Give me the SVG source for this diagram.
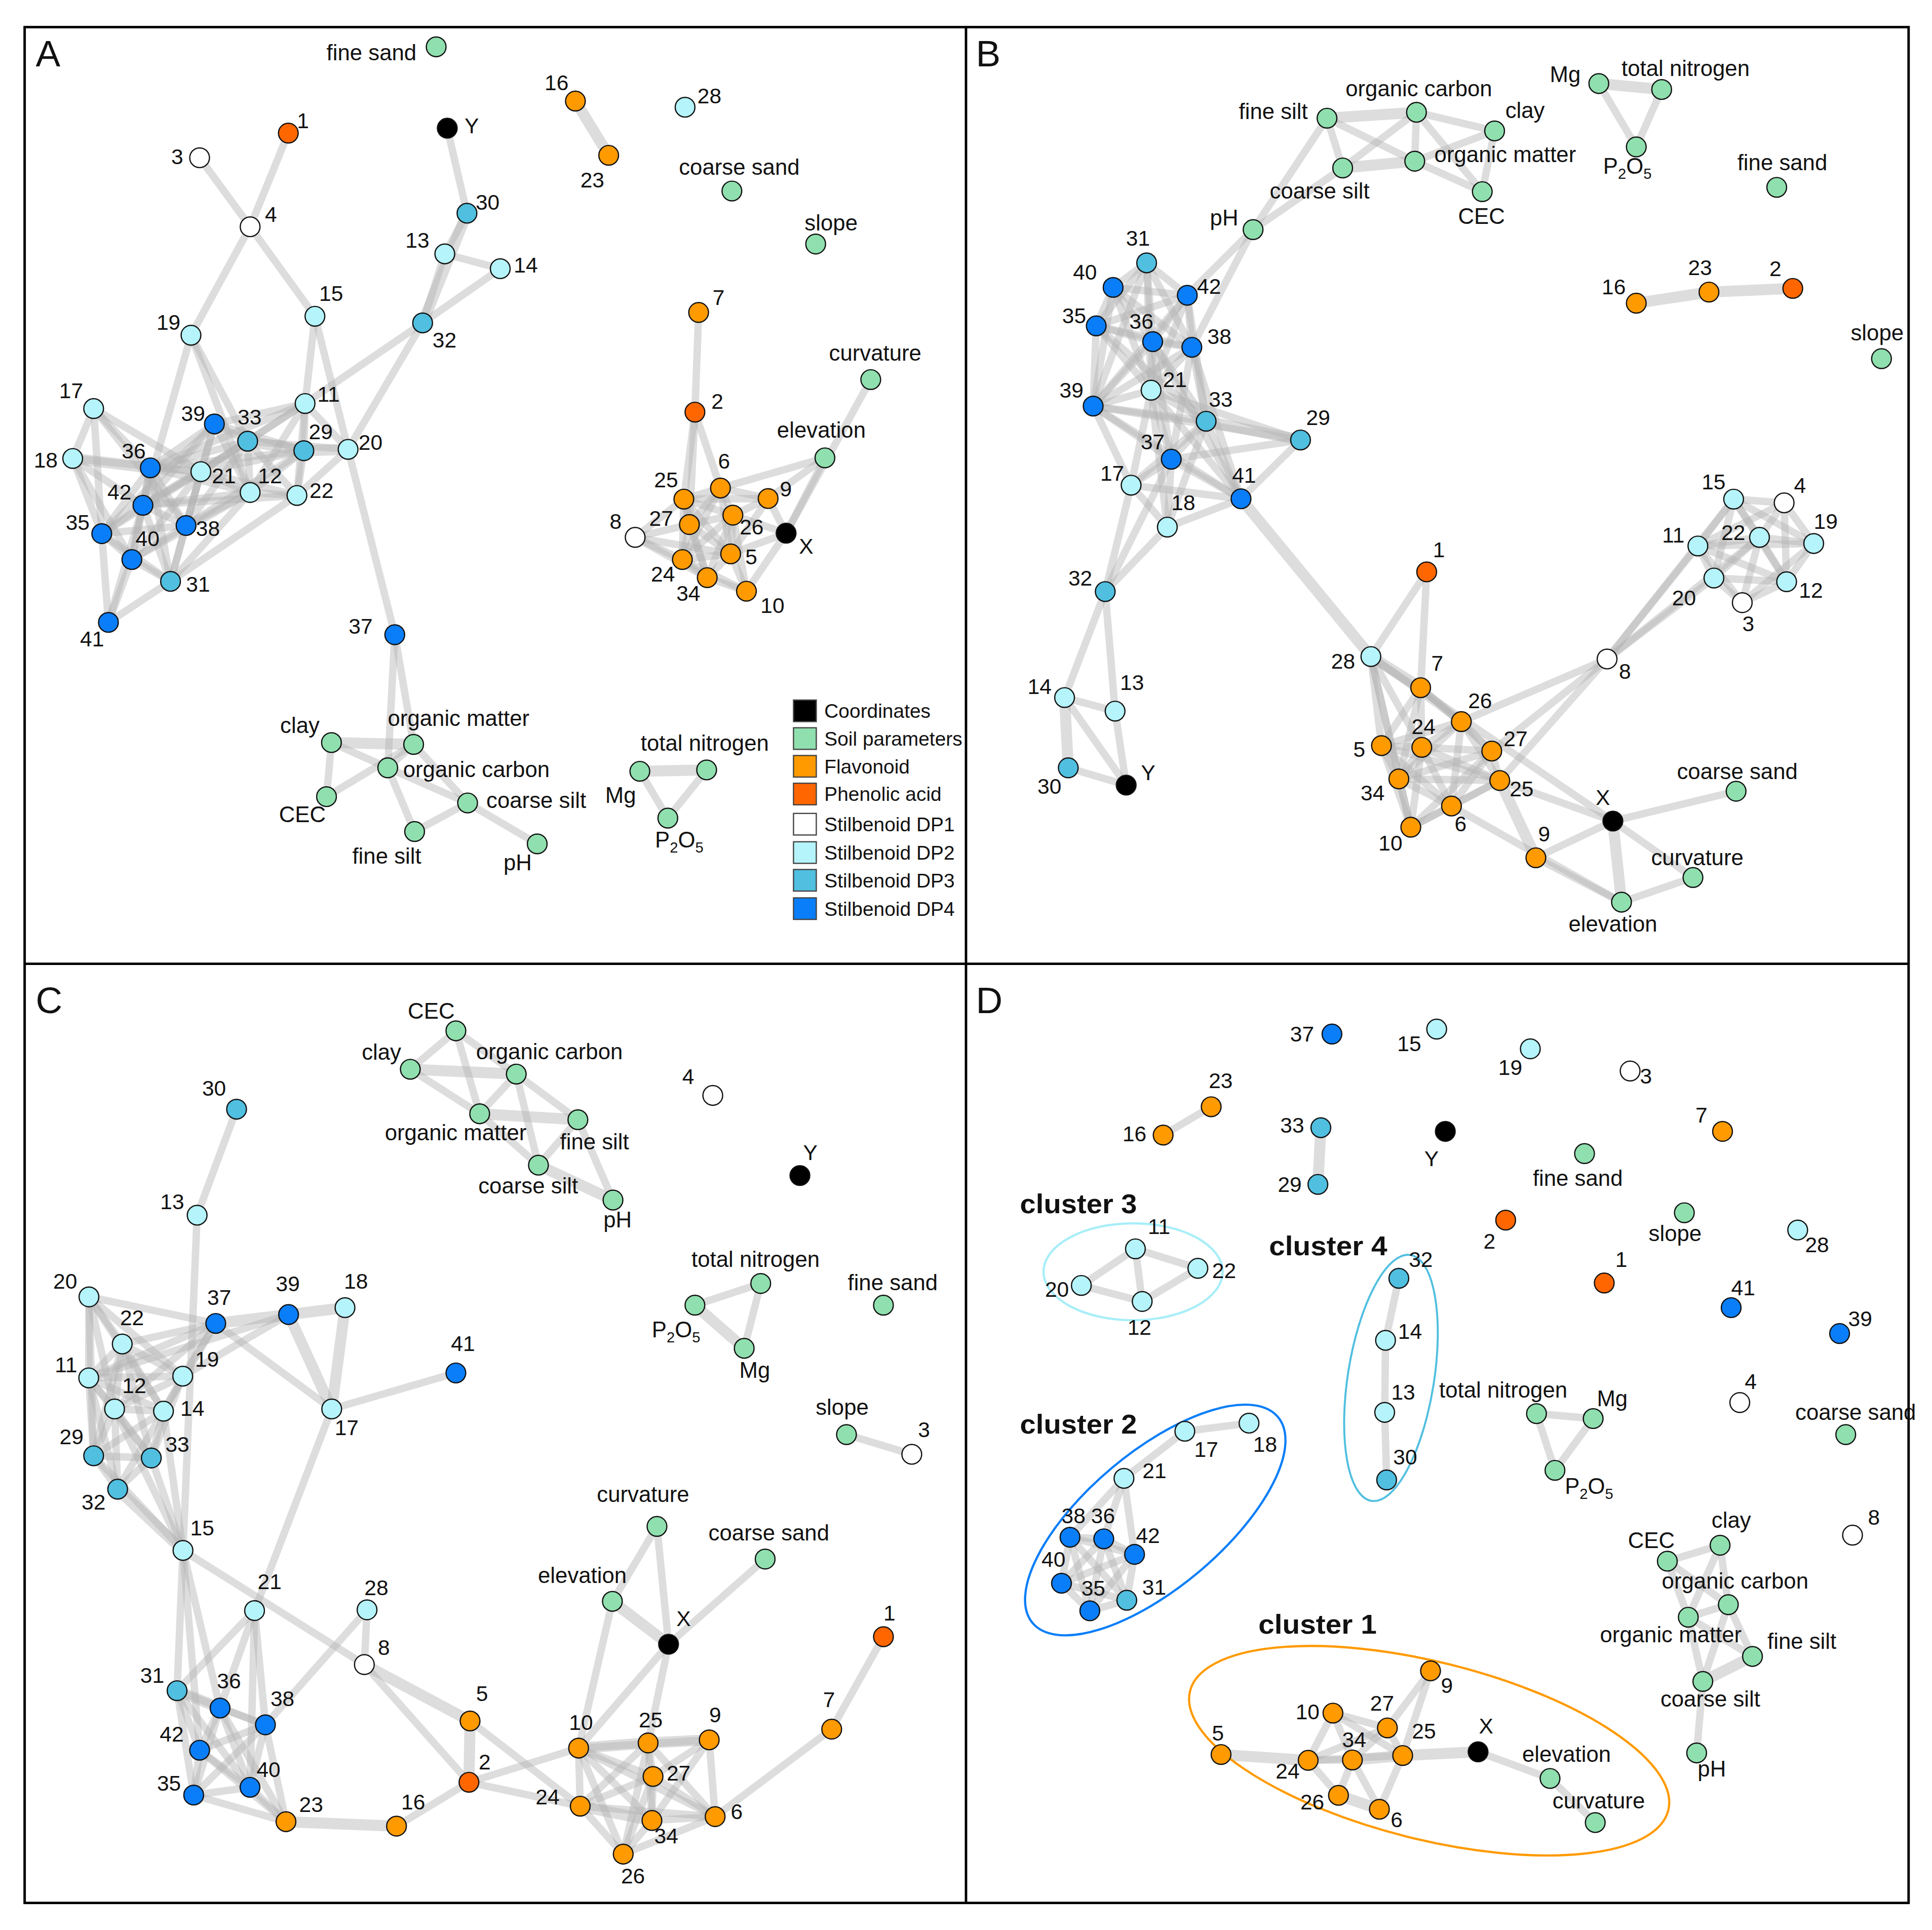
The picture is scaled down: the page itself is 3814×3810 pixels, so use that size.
<svg xmlns="http://www.w3.org/2000/svg" width="3814" height="3810" viewBox="0 0 3814 3810">
<style>
.e line{stroke:#b4b4b4;stroke-opacity:.45;stroke-width:6;stroke-linecap:round}
.e line.t{stroke-width:9}
circle{stroke:#111;stroke-width:1}
.co{fill:#000}.so{fill:#8fe0ae}.fl{fill:#ff9a00}.pa{fill:#ff6600}.d1{fill:#fff}.d2{fill:#b4f4fa}.d3{fill:#50bfe0}.d4{fill:#0a7ef8}
text{font-family:"Liberation Sans",Arial,sans-serif;font-size:17.5px;fill:#111}
.s text{font-size:18px}
.lg text{font-size:16px}
.pl{font-size:30px}
.cl{font-size:22px;font-weight:bold}
.lg rect{stroke:#444;stroke-width:1}
.sub{font-size:12px}
</style>
<rect width="3814" height="3810" fill="#fff"/>
<g transform="scale(2.4324 2.433)">
<g id="frame" fill="none" stroke="#000" stroke-width="2">
<rect x="20" y="22" width="1529" height="1522"/>
<line x1="784" y1="22" x2="784" y2="1544"/>
<line x1="20" y1="782" x2="1549" y2="782"/>
</g>
<text class="pl" x="29" y="54">A</text>
<text class="pl" x="792" y="54">B</text>
<text class="pl" x="29" y="822">C</text>
<text class="pl" x="792" y="822">D</text>

<g id="connectors" class="e">
<!-- Panel A -->
<line x1="162" y1="128" x2="203" y2="184"/>
<line x1="234" y1="108" x2="203" y2="184"/>
<line x1="203" y1="184" x2="255.6" y2="256.6"/>
<line x1="203" y1="184" x2="155" y2="272"/>
<line x1="363" y1="104" x2="379" y2="173"/>
<line class="t" x1="379" y1="173" x2="343" y2="262"/>
<line x1="379" y1="173" x2="361" y2="206"/>
<line x1="361" y1="206" x2="406" y2="218"/>
<line x1="361" y1="206" x2="343" y2="262"/>
<line x1="406" y1="218" x2="343" y2="262"/>
<line x1="343" y1="262" x2="282.5" y2="364.6"/>
<line x1="343" y1="262" x2="247.6" y2="327.4"/>
<line x1="255.6" y1="256.6" x2="247.6" y2="327.4"/>
<line x1="255.6" y1="256.6" x2="282.5" y2="364.6"/>
<line x1="282.5" y1="364.6" x2="320.4" y2="515"/>
<line x1="155" y1="272" x2="116" y2="410"/>
<line x1="155" y1="272" x2="201" y2="358"/>
<line x1="155" y1="272" x2="203" y2="399.6"/>
<line x1="76" y1="331.5" x2="59" y2="372"/>
<line x1="76" y1="331.5" x2="82.6" y2="433"/>
<line x1="76" y1="331.5" x2="122" y2="379.6"/>
<line x1="76" y1="331.5" x2="163" y2="382.7"/>
<line x1="76" y1="331.5" x2="151" y2="426.4"/>
<line class="t" x1="59" y1="372" x2="122" y2="379.6"/>
<line x1="59" y1="372" x2="116" y2="410"/>
<line x1="59" y1="372" x2="82.6" y2="433"/>
<line x1="59" y1="372" x2="163" y2="382.7"/>
<line x1="59" y1="372" x2="107" y2="454"/>
<line x1="122" y1="379.6" x2="116" y2="410"/>
<line x1="122" y1="379.6" x2="151" y2="426.4"/>
<line x1="122" y1="379.6" x2="82.6" y2="433"/>
<line x1="122" y1="379.6" x2="107" y2="454"/>
<line x1="122" y1="379.6" x2="163" y2="382.7"/>
<line x1="122" y1="379.6" x2="203" y2="399.6"/>
<line x1="122" y1="379.6" x2="174" y2="344"/>
<line x1="122" y1="379.6" x2="201" y2="358"/>
<line x1="122" y1="379.6" x2="246.6" y2="365.7"/>
<line x1="122" y1="379.6" x2="247.6" y2="327.4"/>
<line x1="122" y1="379.6" x2="138.4" y2="471.7"/>
<line x1="116" y1="410" x2="151" y2="426.4"/>
<line x1="116" y1="410" x2="82.6" y2="433"/>
<line x1="116" y1="410" x2="107" y2="454"/>
<line x1="116" y1="410" x2="138.4" y2="471.7"/>
<line x1="116" y1="410" x2="163" y2="382.7"/>
<line x1="116" y1="410" x2="203" y2="399.6"/>
<line x1="116" y1="410" x2="174" y2="344"/>
<line x1="116" y1="410" x2="201" y2="358"/>
<line x1="116" y1="410" x2="241" y2="402"/>
<line x1="151" y1="426.4" x2="82.6" y2="433"/>
<line x1="151" y1="426.4" x2="107" y2="454"/>
<line x1="151" y1="426.4" x2="138.4" y2="471.7"/>
<line x1="151" y1="426.4" x2="163" y2="382.7"/>
<line x1="151" y1="426.4" x2="203" y2="399.6"/>
<line x1="151" y1="426.4" x2="174" y2="344"/>
<line x1="151" y1="426.4" x2="201" y2="358"/>
<line x1="151" y1="426.4" x2="246.6" y2="365.7"/>
<line x1="82.6" y1="433" x2="107" y2="454"/>
<line x1="82.6" y1="433" x2="138.4" y2="471.7"/>
<line x1="82.6" y1="433" x2="163" y2="382.7"/>
<line x1="82.6" y1="433" x2="174" y2="344"/>
<line x1="107" y1="454" x2="138.4" y2="471.7"/>
<line x1="107" y1="454" x2="163" y2="382.7"/>
<line x1="107" y1="454" x2="203" y2="399.6"/>
<line x1="138.4" y1="471.7" x2="203" y2="399.6"/>
<line x1="138.4" y1="471.7" x2="241" y2="402"/>
<line x1="138.4" y1="471.7" x2="163" y2="382.7"/>
<line x1="163" y1="382.7" x2="203" y2="399.6"/>
<line x1="163" y1="382.7" x2="174" y2="344"/>
<line x1="163" y1="382.7" x2="201" y2="358"/>
<line x1="163" y1="382.7" x2="246.6" y2="365.7"/>
<line x1="163" y1="382.7" x2="241" y2="402"/>
<line x1="163" y1="382.7" x2="247.6" y2="327.4"/>
<line x1="203" y1="399.6" x2="201" y2="358"/>
<line x1="203" y1="399.6" x2="246.6" y2="365.7"/>
<line x1="203" y1="399.6" x2="241" y2="402"/>
<line x1="203" y1="399.6" x2="247.6" y2="327.4"/>
<line x1="203" y1="399.6" x2="174" y2="344"/>
<line x1="174" y1="344" x2="201" y2="358"/>
<line x1="174" y1="344" x2="247.6" y2="327.4"/>
<line x1="174" y1="344" x2="246.6" y2="365.7"/>
<line class="t" x1="201" y1="358" x2="246.6" y2="365.7"/>
<line x1="201" y1="358" x2="247.6" y2="327.4"/>
<line x1="201" y1="358" x2="241" y2="402"/>
<line x1="201" y1="358" x2="282.5" y2="364.6"/>
<line x1="246.6" y1="365.7" x2="241" y2="402"/>
<line x1="246.6" y1="365.7" x2="247.6" y2="327.4"/>
<line class="t" x1="246.6" y1="365.7" x2="282.5" y2="364.6"/>
<line x1="241" y1="402" x2="282.5" y2="364.6"/>
<line x1="241" y1="402" x2="247.6" y2="327.4"/>
<line x1="247.6" y1="327.4" x2="282.5" y2="364.6"/>
<line x1="88" y1="505" x2="82.6" y2="433"/>
<line x1="88" y1="505" x2="107" y2="454"/>
<line x1="88" y1="505" x2="138.4" y2="471.7"/>
<line x1="88" y1="505" x2="116" y2="410"/>
<line x1="567" y1="253.5" x2="564" y2="334.4"/>
<line x1="564" y1="334.4" x2="555" y2="405"/>
<line x1="564" y1="334.4" x2="584.7" y2="396"/>
<line x1="564" y1="334.4" x2="559.5" y2="425.6"/>
<line x1="706.7" y1="308" x2="638" y2="432.6"/>
<line x1="669.5" y1="371.5" x2="638" y2="432.6"/>
<line x1="669.5" y1="371.5" x2="584.7" y2="396"/>
<line x1="669.5" y1="371.5" x2="623.4" y2="404.5"/>
<line x1="555" y1="405" x2="584.7" y2="396"/>
<line x1="555" y1="405" x2="594.8" y2="418"/>
<line x1="555" y1="405" x2="559.5" y2="425.6"/>
<line x1="555" y1="405" x2="553.8" y2="454"/>
<line x1="555" y1="405" x2="593" y2="449.4"/>
<line x1="555" y1="405" x2="574" y2="468.7"/>
<line x1="555" y1="405" x2="623.4" y2="404.5"/>
<line x1="584.7" y1="396" x2="623.4" y2="404.5"/>
<line x1="584.7" y1="396" x2="594.8" y2="418"/>
<line x1="584.7" y1="396" x2="559.5" y2="425.6"/>
<line x1="584.7" y1="396" x2="593" y2="449.4"/>
<line x1="584.7" y1="396" x2="553.8" y2="454"/>
<line x1="623.4" y1="404.5" x2="594.8" y2="418"/>
<line x1="623.4" y1="404.5" x2="638" y2="432.6"/>
<line x1="623.4" y1="404.5" x2="593" y2="449.4"/>
<line x1="594.8" y1="418" x2="559.5" y2="425.6"/>
<line x1="594.8" y1="418" x2="638" y2="432.6"/>
<line x1="594.8" y1="418" x2="593" y2="449.4"/>
<line x1="594.8" y1="418" x2="553.8" y2="454"/>
<line x1="594.8" y1="418" x2="574" y2="468.7"/>
<line x1="594.8" y1="418" x2="605.8" y2="479.7"/>
<line x1="559.5" y1="425.6" x2="593" y2="449.4"/>
<line x1="559.5" y1="425.6" x2="553.8" y2="454"/>
<line x1="559.5" y1="425.6" x2="574" y2="468.7"/>
<line x1="559.5" y1="425.6" x2="515.5" y2="436"/>
<line x1="515.5" y1="436" x2="555" y2="405"/>
<line x1="515.5" y1="436" x2="553.8" y2="454"/>
<line x1="515.5" y1="436" x2="574" y2="468.7"/>
<line x1="515.5" y1="436" x2="593" y2="449.4"/>
<line x1="638" y1="432.6" x2="593" y2="449.4"/>
<line x1="638" y1="432.6" x2="605.8" y2="479.7"/>
<line x1="593" y1="449.4" x2="553.8" y2="454"/>
<line x1="593" y1="449.4" x2="574" y2="468.7"/>
<line x1="593" y1="449.4" x2="605.8" y2="479.7"/>
<line x1="553.8" y1="454" x2="574" y2="468.7"/>
<line x1="553.8" y1="454" x2="605.8" y2="479.7"/>
<line x1="574" y1="468.7" x2="605.8" y2="479.7"/>
<line x1="320.4" y1="515" x2="314.7" y2="623"/>
<line x1="320.4" y1="515" x2="335.7" y2="604"/>
<line class="t" x1="269" y1="602.5" x2="335.7" y2="604"/>
<line x1="269" y1="602.5" x2="314.7" y2="623"/>
<line x1="269" y1="602.5" x2="265" y2="646.4"/>
<line x1="265" y1="646.4" x2="335.7" y2="604"/>
<line x1="314.7" y1="623" x2="335.7" y2="604"/>
<line x1="335.7" y1="604" x2="379.5" y2="651.5"/>
<line x1="314.7" y1="623" x2="336.5" y2="674.7"/>
<line x1="379.5" y1="651.5" x2="336.5" y2="674.7"/>
<line x1="314.7" y1="623" x2="379.5" y2="651.5"/>
<line x1="379.5" y1="651.5" x2="436" y2="684.7"/>
<line class="t" x1="519.3" y1="625.8" x2="573.5" y2="624.7"/>
<line x1="519.3" y1="625.8" x2="542" y2="663.8"/>
<line x1="573.5" y1="624.7" x2="542" y2="663.8"/>
<line class="t" x1="467" y1="82" x2="494" y2="126"/>
<!-- Panel B -->
<line class="t" x1="1077" y1="95.9" x2="1149.6" y2="91.1"/>
<line x1="1077" y1="95.9" x2="1089.7" y2="136.3"/>
<line x1="1077" y1="95.9" x2="1148.2" y2="130.8"/>
<line x1="1077" y1="95.9" x2="1017" y2="186.3"/>
<line x1="1149.6" y1="91.1" x2="1213" y2="106.2"/>
<line x1="1149.6" y1="91.1" x2="1148.2" y2="130.8"/>
<line x1="1149.6" y1="91.1" x2="1203" y2="155.5"/>
<line x1="1149.6" y1="91.1" x2="1089.7" y2="136.3"/>
<line x1="1213" y1="106.2" x2="1148.2" y2="130.8"/>
<line x1="1213" y1="106.2" x2="1203" y2="155.5"/>
<line class="t" x1="1148.2" y1="130.8" x2="1089.7" y2="136.3"/>
<line x1="1148.2" y1="130.8" x2="1203" y2="155.5"/>
<line x1="1089.7" y1="136.3" x2="1017" y2="186.3"/>
<line class="t" x1="1297.6" y1="67.8" x2="1348.6" y2="72.6"/>
<line x1="1297.6" y1="67.8" x2="1328" y2="119.2"/>
<line x1="1348.6" y1="72.6" x2="1328" y2="119.2"/>
<line class="t" x1="1328" y1="246" x2="1387" y2="237"/>
<line class="t" x1="1387" y1="237" x2="1455" y2="234"/>
<line x1="1017" y1="186.3" x2="963.6" y2="239.6"/>
<line x1="1017" y1="186.3" x2="967.3" y2="281.8"/>
<line x1="930.6" y1="213.3" x2="903.4" y2="233.2"/>
<line x1="930.6" y1="213.3" x2="963.6" y2="239.6"/>
<line x1="930.6" y1="213.3" x2="889.7" y2="264.4"/>
<line x1="930.6" y1="213.3" x2="935.5" y2="277.2"/>
<line x1="930.6" y1="213.3" x2="967.3" y2="281.8"/>
<line x1="930.6" y1="213.3" x2="934.2" y2="316.6"/>
<line x1="930.6" y1="213.3" x2="887.2" y2="329.5"/>
<line x1="903.4" y1="233.2" x2="963.6" y2="239.6"/>
<line x1="903.4" y1="233.2" x2="889.7" y2="264.4"/>
<line x1="903.4" y1="233.2" x2="935.5" y2="277.2"/>
<line x1="903.4" y1="233.2" x2="967.3" y2="281.8"/>
<line x1="903.4" y1="233.2" x2="934.2" y2="316.6"/>
<line x1="903.4" y1="233.2" x2="887.2" y2="329.5"/>
<line x1="963.6" y1="239.6" x2="889.7" y2="264.4"/>
<line x1="963.6" y1="239.6" x2="935.5" y2="277.2"/>
<line x1="963.6" y1="239.6" x2="967.3" y2="281.8"/>
<line x1="963.6" y1="239.6" x2="934.2" y2="316.6"/>
<line x1="963.6" y1="239.6" x2="887.2" y2="329.5"/>
<line x1="963.6" y1="239.6" x2="978.9" y2="341.8"/>
<line x1="889.7" y1="264.4" x2="935.5" y2="277.2"/>
<line x1="889.7" y1="264.4" x2="967.3" y2="281.8"/>
<line x1="889.7" y1="264.4" x2="934.2" y2="316.6"/>
<line x1="889.7" y1="264.4" x2="887.2" y2="329.5"/>
<line x1="889.7" y1="264.4" x2="978.9" y2="341.8"/>
<line x1="935.5" y1="277.2" x2="967.3" y2="281.8"/>
<line x1="935.5" y1="277.2" x2="934.2" y2="316.6"/>
<line x1="935.5" y1="277.2" x2="887.2" y2="329.5"/>
<line x1="935.5" y1="277.2" x2="978.9" y2="341.8"/>
<line x1="935.5" y1="277.2" x2="950.6" y2="372.6"/>
<line x1="935.5" y1="277.2" x2="1007.2" y2="404.7"/>
<line x1="967.3" y1="281.8" x2="934.2" y2="316.6"/>
<line x1="967.3" y1="281.8" x2="887.2" y2="329.5"/>
<line x1="967.3" y1="281.8" x2="978.9" y2="341.8"/>
<line x1="967.3" y1="281.8" x2="950.6" y2="372.6"/>
<line x1="967.3" y1="281.8" x2="1007.2" y2="404.7"/>
<line x1="934.2" y1="316.6" x2="887.2" y2="329.5"/>
<line x1="934.2" y1="316.6" x2="978.9" y2="341.8"/>
<line x1="934.2" y1="316.6" x2="950.6" y2="372.6"/>
<line x1="934.2" y1="316.6" x2="918" y2="393.7"/>
<line x1="934.2" y1="316.6" x2="1007.2" y2="404.7"/>
<line x1="934.2" y1="316.6" x2="947.4" y2="427.7"/>
<line x1="887.2" y1="329.5" x2="978.9" y2="341.8"/>
<line x1="887.2" y1="329.5" x2="950.6" y2="372.6"/>
<line x1="887.2" y1="329.5" x2="918" y2="393.7"/>
<line x1="887.2" y1="329.5" x2="1007.2" y2="404.7"/>
<line x1="978.9" y1="341.8" x2="950.6" y2="372.6"/>
<line x1="978.9" y1="341.8" x2="1007.2" y2="404.7"/>
<line x1="978.9" y1="341.8" x2="918" y2="393.7"/>
<line x1="978.9" y1="341.8" x2="947.4" y2="427.7"/>
<line x1="950.6" y1="372.6" x2="918" y2="393.7"/>
<line x1="950.6" y1="372.6" x2="1007.2" y2="404.7"/>
<line x1="950.6" y1="372.6" x2="947.4" y2="427.7"/>
<line x1="918" y1="393.7" x2="1007.2" y2="404.7"/>
<line x1="918" y1="393.7" x2="947.4" y2="427.7"/>
<line x1="1007.2" y1="404.7" x2="947.4" y2="427.7"/>
<line class="t" x1="1055.5" y1="357" x2="978.9" y2="341.8"/>
<line x1="1055.5" y1="357" x2="950.6" y2="372.6"/>
<line x1="1055.5" y1="357" x2="1007.2" y2="404.7"/>
<line x1="1055.5" y1="357" x2="934.2" y2="316.6"/>
<line x1="1055.5" y1="357" x2="887.2" y2="329.5"/>
<line class="t" x1="1007.2" y1="404.7" x2="1112.6" y2="532.7"/>
<line x1="918" y1="393.7" x2="897" y2="480"/>
<line x1="947.4" y1="427.7" x2="897" y2="480"/>
<line x1="950.6" y1="372.6" x2="897" y2="480"/>
<line x1="897" y1="480" x2="864" y2="566"/>
<line x1="897" y1="480" x2="905" y2="577"/>
<line x1="864" y1="566" x2="905" y2="577"/>
<line class="t" x1="864" y1="566" x2="867" y2="623"/>
<line x1="905" y1="577" x2="914" y2="637"/>
<line x1="867" y1="623" x2="914" y2="637"/>
<line x1="864" y1="566" x2="914" y2="637"/>
<line x1="1112.6" y1="532.7" x2="1157.9" y2="464"/>
<line x1="1157.9" y1="464" x2="1153" y2="558"/>
<line class="t" x1="1112.6" y1="532.7" x2="1153" y2="558"/>
<line x1="1112.6" y1="532.7" x2="1121.2" y2="605"/>
<line x1="1112.6" y1="532.7" x2="1135.3" y2="632"/>
<line x1="1112.6" y1="532.7" x2="1153.9" y2="606.4"/>
<line x1="1112.6" y1="532.7" x2="1186" y2="585.5"/>
<line x1="1112.6" y1="532.7" x2="1309" y2="666.2"/>
<line x1="1112.6" y1="532.7" x2="1145" y2="671.2"/>
<line x1="1153" y1="558" x2="1186" y2="585.5"/>
<line x1="1153" y1="558" x2="1153.9" y2="606.4"/>
<line x1="1153" y1="558" x2="1121.2" y2="605"/>
<line x1="1153" y1="558" x2="1210.7" y2="609.4"/>
<line x1="1153" y1="558" x2="1135.3" y2="632"/>
<line x1="1186" y1="585.5" x2="1153.9" y2="606.4"/>
<line x1="1186" y1="585.5" x2="1121.2" y2="605"/>
<line x1="1186" y1="585.5" x2="1210.7" y2="609.4"/>
<line x1="1186" y1="585.5" x2="1135.3" y2="632"/>
<line x1="1186" y1="585.5" x2="1217.2" y2="633.3"/>
<line x1="1186" y1="585.5" x2="1178" y2="654"/>
<line x1="1153.9" y1="606.4" x2="1121.2" y2="605"/>
<line x1="1153.9" y1="606.4" x2="1210.7" y2="609.4"/>
<line x1="1153.9" y1="606.4" x2="1135.3" y2="632"/>
<line x1="1153.9" y1="606.4" x2="1217.2" y2="633.3"/>
<line x1="1153.9" y1="606.4" x2="1178" y2="654"/>
<line x1="1153.9" y1="606.4" x2="1145" y2="671.2"/>
<line x1="1121.2" y1="605" x2="1135.3" y2="632"/>
<line x1="1121.2" y1="605" x2="1145" y2="671.2"/>
<line x1="1121.2" y1="605" x2="1178" y2="654"/>
<line x1="1121.2" y1="605" x2="1217.2" y2="633.3"/>
<line x1="1210.7" y1="609.4" x2="1135.3" y2="632"/>
<line x1="1210.7" y1="609.4" x2="1217.2" y2="633.3"/>
<line x1="1210.7" y1="609.4" x2="1178" y2="654"/>
<line x1="1210.7" y1="609.4" x2="1145" y2="671.2"/>
<line x1="1135.3" y1="632" x2="1217.2" y2="633.3"/>
<line x1="1135.3" y1="632" x2="1178" y2="654"/>
<line x1="1135.3" y1="632" x2="1145" y2="671.2"/>
<line x1="1217.2" y1="633.3" x2="1178" y2="654"/>
<line x1="1217.2" y1="633.3" x2="1145" y2="671.2"/>
<line x1="1178" y1="654" x2="1145" y2="671.2"/>
<line x1="1304.3" y1="534.7" x2="1186" y2="585.5"/>
<line x1="1304.3" y1="534.7" x2="1210.7" y2="609.4"/>
<line x1="1304.3" y1="534.7" x2="1217.2" y2="633.3"/>
<line x1="1304.3" y1="534.7" x2="1407" y2="405"/>
<line x1="1304.3" y1="534.7" x2="1378" y2="443"/>
<line x1="1304.3" y1="534.7" x2="1391" y2="469"/>
<line x1="1304.3" y1="534.7" x2="1428" y2="436"/>
<line class="t" x1="1217.2" y1="633.3" x2="1246.5" y2="696"/>
<line x1="1178" y1="654" x2="1316" y2="732"/>
<line x1="1246.5" y1="696" x2="1309" y2="666.2"/>
<line x1="1246.5" y1="696" x2="1316" y2="732"/>
<line x1="1217.2" y1="633.3" x2="1309" y2="666.2"/>
<line class="t" x1="1309" y1="666.2" x2="1316" y2="732"/>
<line x1="1309" y1="666.2" x2="1374" y2="712"/>
<line x1="1309" y1="666.2" x2="1409" y2="642"/>
<line x1="1374" y1="712" x2="1316" y2="732"/>
<line x1="1407" y1="405" x2="1448" y2="408"/>
<line x1="1407" y1="405" x2="1378" y2="443"/>
<line x1="1407" y1="405" x2="1428" y2="436"/>
<line x1="1407" y1="405" x2="1472" y2="441"/>
<line x1="1407" y1="405" x2="1391" y2="469"/>
<line x1="1407" y1="405" x2="1450" y2="472"/>
<line x1="1448" y1="408" x2="1428" y2="436"/>
<line x1="1448" y1="408" x2="1472" y2="441"/>
<line x1="1448" y1="408" x2="1450" y2="472"/>
<line x1="1448" y1="408" x2="1378" y2="443"/>
<line x1="1378" y1="443" x2="1428" y2="436"/>
<line x1="1378" y1="443" x2="1391" y2="469"/>
<line x1="1378" y1="443" x2="1450" y2="472"/>
<line x1="1378" y1="443" x2="1414" y2="489"/>
<line x1="1378" y1="443" x2="1472" y2="441"/>
<line x1="1428" y1="436" x2="1472" y2="441"/>
<line x1="1428" y1="436" x2="1391" y2="469"/>
<line x1="1428" y1="436" x2="1450" y2="472"/>
<line x1="1428" y1="436" x2="1414" y2="489"/>
<line x1="1472" y1="441" x2="1450" y2="472"/>
<line x1="1472" y1="441" x2="1414" y2="489"/>
<line x1="1391" y1="469" x2="1450" y2="472"/>
<line x1="1391" y1="469" x2="1414" y2="489"/>
<line x1="1450" y1="472" x2="1414" y2="489"/>
<!-- Panel C -->
<line x1="370" y1="836.4" x2="333" y2="867.6"/>
<line x1="370" y1="836.4" x2="419" y2="871.5"/>
<line x1="370" y1="836.4" x2="389.3" y2="903.7"/>
<line class="t" x1="333" y1="867.6" x2="419" y2="871.5"/>
<line x1="333" y1="867.6" x2="389.3" y2="903.7"/>
<line x1="419" y1="871.5" x2="389.3" y2="903.7"/>
<line x1="419" y1="871.5" x2="469" y2="908.5"/>
<line x1="419" y1="871.5" x2="437" y2="945.4"/>
<line class="t" x1="389.3" y1="903.7" x2="469" y2="908.5"/>
<line x1="389.3" y1="903.7" x2="437" y2="945.4"/>
<line x1="469" y1="908.5" x2="437" y2="945.4"/>
<line x1="469" y1="908.5" x2="497.5" y2="973.7"/>
<line class="t" x1="437" y1="945.4" x2="497.5" y2="973.7"/>
<line x1="617.4" y1="1041.4" x2="564" y2="1059"/>
<line x1="617.4" y1="1041.4" x2="604" y2="1094"/>
<line class="t" x1="564" y1="1059" x2="604" y2="1094"/>
<line x1="687" y1="1164" x2="740" y2="1180"/>
<line x1="192" y1="900" x2="160" y2="986"/>
<line x1="160" y1="986" x2="148.5" y2="1258"/>
<line x1="72.2" y1="1052.3" x2="175.1" y2="1073.8"/>
<line x1="72.2" y1="1052.3" x2="99.2" y2="1090.5"/>
<line x1="72.2" y1="1052.3" x2="72" y2="1118"/>
<line x1="72.2" y1="1052.3" x2="93" y2="1143.2"/>
<line x1="72.2" y1="1052.3" x2="76" y2="1181.2"/>
<line x1="72.2" y1="1052.3" x2="132.7" y2="1145"/>
<line x1="72.2" y1="1052.3" x2="148.3" y2="1116.6"/>
<line class="t" x1="175.1" y1="1073.8" x2="234.2" y2="1066.6"/>
<line class="t" x1="234.2" y1="1066.6" x2="280" y2="1061"/>
<line x1="175.1" y1="1073.8" x2="269.2" y2="1143.2"/>
<line class="t" x1="234.2" y1="1066.6" x2="269.2" y2="1143.2"/>
<line class="t" x1="280" y1="1061" x2="269.2" y2="1143.2"/>
<line x1="175.1" y1="1073.8" x2="99.2" y2="1090.5"/>
<line x1="175.1" y1="1073.8" x2="72" y2="1118"/>
<line x1="175.1" y1="1073.8" x2="148.3" y2="1116.6"/>
<line x1="175.1" y1="1073.8" x2="93" y2="1143.2"/>
<line x1="175.1" y1="1073.8" x2="132.7" y2="1145"/>
<line x1="234.2" y1="1066.6" x2="148.3" y2="1116.6"/>
<line x1="234.2" y1="1066.6" x2="72" y2="1118"/>
<line x1="269.2" y1="1143.2" x2="206.6" y2="1306.8"/>
<line x1="269.2" y1="1143.2" x2="370" y2="1114"/>
<line x1="99.2" y1="1090.5" x2="72" y2="1118"/>
<line x1="99.2" y1="1090.5" x2="148.3" y2="1116.6"/>
<line x1="99.2" y1="1090.5" x2="93" y2="1143.2"/>
<line x1="99.2" y1="1090.5" x2="132.7" y2="1145"/>
<line x1="99.2" y1="1090.5" x2="76" y2="1181.2"/>
<line x1="99.2" y1="1090.5" x2="122.8" y2="1183"/>
<line x1="72" y1="1118" x2="148.3" y2="1116.6"/>
<line x1="72" y1="1118" x2="93" y2="1143.2"/>
<line x1="72" y1="1118" x2="132.7" y2="1145"/>
<line x1="72" y1="1118" x2="76" y2="1181.2"/>
<line x1="72" y1="1118" x2="122.8" y2="1183"/>
<line x1="72" y1="1118" x2="95.5" y2="1208.3"/>
<line x1="148.3" y1="1116.6" x2="93" y2="1143.2"/>
<line x1="148.3" y1="1116.6" x2="132.7" y2="1145"/>
<line x1="148.3" y1="1116.6" x2="122.8" y2="1183"/>
<line x1="93" y1="1143.2" x2="132.7" y2="1145"/>
<line x1="93" y1="1143.2" x2="76" y2="1181.2"/>
<line x1="93" y1="1143.2" x2="122.8" y2="1183"/>
<line x1="93" y1="1143.2" x2="95.5" y2="1208.3"/>
<line x1="132.7" y1="1145" x2="76" y2="1181.2"/>
<line x1="132.7" y1="1145" x2="122.8" y2="1183"/>
<line x1="132.7" y1="1145" x2="95.5" y2="1208.3"/>
<line x1="76" y1="1181.2" x2="122.8" y2="1183"/>
<line x1="76" y1="1181.2" x2="95.5" y2="1208.3"/>
<line x1="122.8" y1="1183" x2="95.5" y2="1208.3"/>
<line x1="148.5" y1="1258" x2="76" y2="1181.2"/>
<line x1="148.5" y1="1258" x2="122.8" y2="1183"/>
<line class="t" x1="148.5" y1="1258" x2="95.5" y2="1208.3"/>
<line x1="148.5" y1="1258" x2="93" y2="1143.2"/>
<line x1="148.5" y1="1258" x2="132.7" y2="1145"/>
<line x1="148.5" y1="1258" x2="295.7" y2="1350.6"/>
<line class="t" x1="295.7" y1="1350.6" x2="381.5" y2="1396.4"/>
<line x1="295.7" y1="1350.6" x2="380.6" y2="1446.1"/>
<line x1="297.9" y1="1306.2" x2="295.7" y2="1350.6"/>
<line x1="297.9" y1="1306.2" x2="215.4" y2="1399.5"/>
<line x1="206.6" y1="1306.8" x2="143.7" y2="1371.8"/>
<line x1="206.6" y1="1306.8" x2="178.6" y2="1385.9"/>
<line x1="206.6" y1="1306.8" x2="215.4" y2="1399.5"/>
<line x1="206.6" y1="1306.8" x2="202.9" y2="1450.2"/>
<line x1="148.5" y1="1258" x2="143.7" y2="1371.8"/>
<line x1="148.5" y1="1258" x2="178.6" y2="1385.9"/>
<line x1="148.5" y1="1258" x2="162" y2="1420.1"/>
<line class="t" x1="143.7" y1="1371.8" x2="178.6" y2="1385.9"/>
<line x1="143.7" y1="1371.8" x2="215.4" y2="1399.5"/>
<line x1="143.7" y1="1371.8" x2="162" y2="1420.1"/>
<line x1="143.7" y1="1371.8" x2="202.9" y2="1450.2"/>
<line x1="143.7" y1="1371.8" x2="157.2" y2="1456.5"/>
<line x1="178.6" y1="1385.9" x2="215.4" y2="1399.5"/>
<line x1="178.6" y1="1385.9" x2="162" y2="1420.1"/>
<line x1="178.6" y1="1385.9" x2="202.9" y2="1450.2"/>
<line x1="178.6" y1="1385.9" x2="157.2" y2="1456.5"/>
<line x1="215.4" y1="1399.5" x2="162" y2="1420.1"/>
<line x1="215.4" y1="1399.5" x2="202.9" y2="1450.2"/>
<line x1="215.4" y1="1399.5" x2="157.2" y2="1456.5"/>
<line x1="162" y1="1420.1" x2="202.9" y2="1450.2"/>
<line x1="162" y1="1420.1" x2="157.2" y2="1456.5"/>
<line x1="202.9" y1="1450.2" x2="157.2" y2="1456.5"/>
<line x1="232.1" y1="1478.1" x2="157.2" y2="1456.5"/>
<line x1="232.1" y1="1478.1" x2="202.9" y2="1450.2"/>
<line x1="232.1" y1="1478.1" x2="178.6" y2="1385.9"/>
<line x1="232.1" y1="1478.1" x2="215.4" y2="1399.5"/>
<line x1="232.1" y1="1478.1" x2="162" y2="1420.1"/>
<line class="t" x1="232.1" y1="1478.1" x2="321.8" y2="1481.7"/>
<line x1="321.8" y1="1481.7" x2="380.6" y2="1446.1"/>
<line class="t" x1="380.6" y1="1446.1" x2="381.5" y2="1396.4"/>
<line x1="380.6" y1="1446.1" x2="470.9" y2="1465.5"/>
<line x1="380.6" y1="1446.1" x2="469.6" y2="1418.4"/>
<line x1="381.5" y1="1396.4" x2="470.9" y2="1465.5"/>
<line x1="469.6" y1="1418.4" x2="497" y2="1299.3"/>
<line x1="469.6" y1="1418.4" x2="542.6" y2="1334.1"/>
<line x1="526" y1="1414.2" x2="542.6" y2="1334.1"/>
<line class="t" x1="542.6" y1="1334.1" x2="497" y2="1299.3"/>
<line x1="542.6" y1="1334.1" x2="533.2" y2="1238.5"/>
<line x1="497" y1="1299.3" x2="533.2" y2="1238.5"/>
<line x1="542.6" y1="1334.1" x2="621" y2="1265"/>
<line class="t" x1="469.6" y1="1418.4" x2="526" y2="1414.2"/>
<line x1="469.6" y1="1418.4" x2="575.6" y2="1411.7"/>
<line x1="469.6" y1="1418.4" x2="530" y2="1441.4"/>
<line x1="469.6" y1="1418.4" x2="470.9" y2="1465.5"/>
<line x1="469.6" y1="1418.4" x2="529.1" y2="1477.1"/>
<line x1="469.6" y1="1418.4" x2="505.8" y2="1504.4"/>
<line x1="469.6" y1="1418.4" x2="580.4" y2="1474"/>
<line class="t" x1="526" y1="1414.2" x2="575.6" y2="1411.7"/>
<line x1="526" y1="1414.2" x2="530" y2="1441.4"/>
<line x1="526" y1="1414.2" x2="470.9" y2="1465.5"/>
<line x1="526" y1="1414.2" x2="529.1" y2="1477.1"/>
<line x1="526" y1="1414.2" x2="580.4" y2="1474"/>
<line x1="526" y1="1414.2" x2="505.8" y2="1504.4"/>
<line x1="575.6" y1="1411.7" x2="530" y2="1441.4"/>
<line x1="575.6" y1="1411.7" x2="580.4" y2="1474"/>
<line x1="575.6" y1="1411.7" x2="529.1" y2="1477.1"/>
<line x1="530" y1="1441.4" x2="470.9" y2="1465.5"/>
<line x1="530" y1="1441.4" x2="529.1" y2="1477.1"/>
<line x1="530" y1="1441.4" x2="580.4" y2="1474"/>
<line x1="530" y1="1441.4" x2="505.8" y2="1504.4"/>
<line class="t" x1="470.9" y1="1465.5" x2="529.1" y2="1477.1"/>
<line x1="470.9" y1="1465.5" x2="505.8" y2="1504.4"/>
<line x1="470.9" y1="1465.5" x2="580.4" y2="1474"/>
<line x1="529.1" y1="1477.1" x2="580.4" y2="1474"/>
<line x1="529.1" y1="1477.1" x2="505.8" y2="1504.4"/>
<line x1="505.8" y1="1504.4" x2="580.4" y2="1474"/>
<line x1="717" y1="1328" x2="675" y2="1403"/>
<line x1="675" y1="1403" x2="580.4" y2="1474"/>
<!-- Panel D -->
<line x1="944" y1="921" x2="983" y2="898"/>
<line class="t" x1="1072" y1="915" x2="1069.6" y2="961"/>
<line x1="877.6" y1="1043" x2="921.5" y2="1013.3"/>
<line x1="921.5" y1="1013.3" x2="972.2" y2="1029.1"/>
<line x1="921.5" y1="1013.3" x2="927" y2="1056"/>
<line x1="877.6" y1="1043" x2="927" y2="1056"/>
<line x1="972.2" y1="1029.1" x2="927" y2="1056"/>
<line x1="1135.3" y1="1037.2" x2="1124.5" y2="1087.5"/>
<line x1="1124.5" y1="1087.5" x2="1123.8" y2="1146"/>
<line x1="1123.8" y1="1146" x2="1125.4" y2="1200.8"/>
<line x1="961.6" y1="1161.3" x2="1013.7" y2="1154.7"/>
<line x1="961.6" y1="1161.3" x2="912.2" y2="1199.5"/>
<line x1="912.2" y1="1199.5" x2="895.8" y2="1248.6"/>
<line x1="912.2" y1="1199.5" x2="920.8" y2="1261.2"/>
<line x1="912.2" y1="1199.5" x2="868.4" y2="1247.3"/>
<line x1="868.4" y1="1247.3" x2="895.8" y2="1248.6"/>
<line x1="868.4" y1="1247.3" x2="920.8" y2="1261.2"/>
<line x1="868.4" y1="1247.3" x2="861.5" y2="1284.6"/>
<line x1="868.4" y1="1247.3" x2="884.5" y2="1307"/>
<line x1="868.4" y1="1247.3" x2="914.5" y2="1298.4"/>
<line x1="895.8" y1="1248.6" x2="920.8" y2="1261.2"/>
<line x1="895.8" y1="1248.6" x2="861.5" y2="1284.6"/>
<line x1="895.8" y1="1248.6" x2="884.5" y2="1307"/>
<line x1="895.8" y1="1248.6" x2="914.5" y2="1298.4"/>
<line x1="920.8" y1="1261.2" x2="861.5" y2="1284.6"/>
<line x1="920.8" y1="1261.2" x2="884.5" y2="1307"/>
<line x1="920.8" y1="1261.2" x2="914.5" y2="1298.4"/>
<line x1="861.5" y1="1284.6" x2="884.5" y2="1307"/>
<line x1="861.5" y1="1284.6" x2="914.5" y2="1298.4"/>
<line x1="884.5" y1="1307" x2="914.5" y2="1298.4"/>
<line x1="1247" y1="1147" x2="1293" y2="1151"/>
<line x1="1247" y1="1147" x2="1262" y2="1193"/>
<line x1="1293" y1="1151" x2="1262" y2="1193"/>
<line x1="1353.2" y1="1266.7" x2="1396" y2="1253.8"/>
<line x1="1353.2" y1="1266.7" x2="1402.7" y2="1302"/>
<line x1="1353.2" y1="1266.7" x2="1370.2" y2="1312.2"/>
<line x1="1396" y1="1253.8" x2="1402.7" y2="1302"/>
<line x1="1396" y1="1253.8" x2="1370.2" y2="1312.2"/>
<line x1="1402.7" y1="1302" x2="1370.2" y2="1312.2"/>
<line x1="1402.7" y1="1302" x2="1422.3" y2="1344"/>
<line x1="1370.2" y1="1312.2" x2="1422.3" y2="1344"/>
<line x1="1370.2" y1="1312.2" x2="1382" y2="1364.3"/>
<line x1="1402.7" y1="1302" x2="1382" y2="1364.3"/>
<line class="t" x1="1422.3" y1="1344" x2="1382" y2="1364.3"/>
<line x1="1382" y1="1364.3" x2="1377" y2="1422.3"/>
<line class="t" x1="991" y1="1423.6" x2="1061.7" y2="1428.3"/>
<line x1="1061.7" y1="1428.3" x2="1097.6" y2="1428"/>
<line x1="1061.7" y1="1428.3" x2="1081.8" y2="1390"/>
<line x1="1061.7" y1="1428.3" x2="1086.3" y2="1456.7"/>
<line x1="1061.7" y1="1428.3" x2="1126" y2="1402"/>
<line x1="1061.7" y1="1428.3" x2="1138.4" y2="1424.4"/>
<line x1="1081.8" y1="1390" x2="1126" y2="1402"/>
<line x1="1081.8" y1="1390" x2="1097.6" y2="1428"/>
<line x1="1081.8" y1="1390" x2="1138.4" y2="1424.4"/>
<line x1="1126" y1="1402" x2="1161" y2="1355.7"/>
<line x1="1138.4" y1="1424.4" x2="1161" y2="1355.7"/>
<line x1="1126" y1="1402" x2="1138.4" y2="1424.4"/>
<line class="t" x1="1097.6" y1="1428" x2="1138.4" y2="1424.4"/>
<line class="t" x1="1086.3" y1="1456.7" x2="1119.5" y2="1468"/>
<line x1="1097.6" y1="1428" x2="1119.5" y2="1468"/>
<line x1="1138.4" y1="1424.4" x2="1119.5" y2="1468"/>
<line x1="1097.6" y1="1428" x2="1086.3" y2="1456.7"/>
<line x1="1126" y1="1402" x2="1097.6" y2="1428"/>
<line class="t" x1="1138.4" y1="1424.4" x2="1199.6" y2="1421.4"/>
<line x1="1199.6" y1="1421.4" x2="1258" y2="1443"/>
<line x1="1258" y1="1443" x2="1294.7" y2="1478.8"/>
</g>

<g id="legend" class="lg">
<rect x="644" y="568" width="18.5" height="17.5" fill="#000"/>
<rect x="644" y="590.5" width="18.5" height="17.5" fill="#8fe0ae"/>
<rect x="644" y="613" width="18.5" height="17.5" fill="#ff9a00"/>
<rect x="644" y="635.5" width="18.5" height="17.5" fill="#ff6600"/>
<rect x="644" y="660" width="18.5" height="17.5" fill="#fff"/>
<rect x="644" y="683" width="18.5" height="17.5" fill="#b4f4fa"/>
<rect x="644" y="705.5" width="18.5" height="17.5" fill="#50bfe0"/>
<rect x="644" y="728.5" width="18.5" height="17.5" fill="#0a7ef8"/>
<text x="669" y="582.5">Coordinates</text>
<text x="669" y="605">Soil parameters</text>
<text x="669" y="627.5">Flavonoid</text>
<text x="669" y="650">Phenolic acid</text>
<text x="669" y="674.5">Stilbenoid DP1</text>
<text x="669" y="697.5">Stilbenoid DP2</text>
<text x="669" y="720">Stilbenoid DP3</text>
<text x="669" y="743">Stilbenoid DP4</text>
</g>

<g id="panelA">
<g id="a-fine-sand" class="s"><circle class="so" cx="354" cy="38" r="8"/><text x="265" y="49">fine sand</text></g>
<g id="a-16"><circle class="fl" cx="467" cy="82" r="8"/><text x="442" y="73">16</text></g>
<g id="a-23"><circle class="fl" cx="494" cy="126" r="8"/><text x="471" y="152">23</text></g>
<g id="a-28"><circle class="d2" cx="556" cy="87" r="8"/><text x="566" y="84">28</text></g>
<g id="a-coarse-sand" class="s"><circle class="so" cx="594" cy="155" r="8"/><text x="551" y="142">coarse sand</text></g>
<g id="a-slope" class="s"><circle class="so" cx="662" cy="198" r="8"/><text x="653" y="187">slope</text></g>
<g id="a-1"><circle class="pa" cx="234" cy="108" r="8"/><text x="241" y="104">1</text></g>
<g id="a-Y"><circle class="co" cx="363" cy="104" r="8"/><text x="377" y="108">Y</text></g>
<g id="a-3"><circle class="d1" cx="162" cy="128" r="8"/><text x="139" y="133">3</text></g>
<g id="a-4"><circle class="d1" cx="203" cy="184" r="8"/><text x="215" y="180">4</text></g>
<g id="a-30"><circle class="d3" cx="379" cy="173" r="8"/><text x="386" y="170">30</text></g>
<g id="a-13"><circle class="d2" cx="361" cy="206" r="8"/><text x="329" y="201">13</text></g>
<g id="a-14"><circle class="d2" cx="406" cy="218" r="8"/><text x="417" y="221">14</text></g>
<g id="a-32"><circle class="d3" cx="343" cy="262" r="8"/><text x="351" y="282">32</text></g>
<g id="a-15"><circle class="d2" cx="255.6" cy="256.6" r="8"/><text x="259" y="244">15</text></g>
<g id="a-19"><circle class="d2" cx="155" cy="272" r="8"/><text x="127" y="267.6">19</text></g>
<g id="a-17"><circle class="d2" cx="76" cy="331.5" r="8"/><text x="48" y="323">17</text></g>
<g id="a-11"><circle class="d2" cx="247.6" cy="327.4" r="8"/><text x="257.6" y="326">11</text></g>
<g id="a-39"><circle class="d4" cx="174" cy="344" r="8"/><text x="147" y="341.5">39</text></g>
<g id="a-33"><circle class="d3" cx="201" cy="358" r="8"/><text x="192.8" y="344.4">33</text></g>
<g id="a-29"><circle class="d3" cx="246.6" cy="365.7" r="8"/><text x="250.6" y="356.3">29</text></g>
<g id="a-20"><circle class="d2" cx="282.5" cy="364.6" r="8"/><text x="291" y="365">20</text></g>
<g id="a-18"><circle class="d2" cx="59" cy="372" r="8"/><text x="27.4" y="379.3">18</text></g>
<g id="a-36"><circle class="d4" cx="122" cy="379.6" r="8"/><text x="98.8" y="372">36</text></g>
<g id="a-21"><circle class="d2" cx="163" cy="382.7" r="8"/><text x="172" y="392">21</text></g>
<g id="a-12"><circle class="d2" cx="203" cy="399.6" r="8"/><text x="209.4" y="392">12</text></g>
<g id="a-22"><circle class="d2" cx="241" cy="402" r="8"/><text x="251.2" y="404.2">22</text></g>
<g id="a-42"><circle class="d4" cx="116" cy="410" r="8"/><text x="87.2" y="405.3">42</text></g>
<g id="a-38"><circle class="d4" cx="151" cy="426.4" r="8"/><text x="159" y="435">38</text></g>
<g id="a-35"><circle class="d4" cx="82.6" cy="433" r="8"/><text x="53.3" y="430">35</text></g>
<g id="a-40"><circle class="d4" cx="107" cy="454" r="8"/><text x="110" y="443">40</text></g>
<g id="a-31"><circle class="d3" cx="138.4" cy="471.7" r="8"/><text x="151" y="480">31</text></g>
<g id="a-41"><circle class="d4" cx="88" cy="505" r="8"/><text x="65" y="524.6">41</text></g>
<g id="a-37"><circle class="d4" cx="320.4" cy="515" r="8"/><text x="283" y="514">37</text></g>
<g id="a-7"><circle class="fl" cx="567" cy="253.5" r="8"/><text x="578.3" y="247.6">7</text></g>
<g id="a-2"><circle class="pa" cx="564" cy="334.4" r="8"/><text x="577.3" y="331.6">2</text></g>
<g id="a-curvature" class="s"><circle class="so" cx="706.7" cy="308" r="8"/><text x="672.8" y="292.6">curvature</text></g>
<g id="a-elevation" class="s"><circle class="so" cx="669.5" cy="371.5" r="8"/><text x="630.6" y="355.3">elevation</text></g>
<g id="a-6"><circle class="fl" cx="584.7" cy="396" r="8"/><text x="582.8" y="380">6</text></g>
<g id="a-25"><circle class="fl" cx="555" cy="405" r="8"/><text x="530.9" y="395.3">25</text></g>
<g id="a-9"><circle class="fl" cx="623.4" cy="404.5" r="8"/><text x="632.9" y="402.7">9</text></g>
<g id="a-26"><circle class="fl" cx="594.8" cy="418" r="8"/><text x="600.3" y="433.5">26</text></g>
<g id="a-27"><circle class="fl" cx="559.5" cy="425.6" r="8"/><text x="526.9" y="426.5">27</text></g>
<g id="a-8"><circle class="d1" cx="515.5" cy="436" r="8"/><text x="494.8" y="429.3">8</text></g>
<g id="a-X"><circle class="co" cx="638" cy="432.6" r="8"/><text x="648.4" y="449.4">X</text></g>
<g id="a-5"><circle class="fl" cx="593" cy="449.4" r="8"/><text x="604.9" y="457.7">5</text></g>
<g id="a-24"><circle class="fl" cx="553.8" cy="454" r="8"/><text x="528.3" y="471.8">24</text></g>
<g id="a-34"><circle class="fl" cx="574" cy="468.7" r="8"/><text x="548.9" y="487.6">34</text></g>
<g id="a-10"><circle class="fl" cx="605.8" cy="479.7" r="8"/><text x="617.2" y="497.2">10</text></g>
<g id="a-clay" class="s"><circle class="so" cx="269" cy="602.5" r="8"/><text x="227.4" y="594.6">clay</text></g>
<g id="a-organic-matter" class="s"><circle class="so" cx="335.7" cy="604" r="8"/><text x="314.7" y="589.1">organic matter</text></g>
<g id="a-organic-carbon" class="s"><circle class="so" cx="314.7" cy="623" r="8"/><text x="327.1" y="630.5">organic carbon</text></g>
<g id="a-CEC" class="s"><circle class="so" cx="265" cy="646.4" r="8"/><text x="226.4" y="667.2">CEC</text></g>
<g id="a-coarse-silt" class="s"><circle class="so" cx="379.5" cy="651.5" r="8"/><text x="394.7" y="655.6">coarse silt</text></g>
<g id="a-fine-silt" class="s"><circle class="so" cx="336.5" cy="674.7" r="8"/><text x="285.9" y="700.8">fine silt</text></g>
<g id="a-pH" class="s"><circle class="so" cx="436" cy="684.7" r="8"/><text x="408.6" y="706.3">pH</text></g>
<g id="a-Mg" class="s"><circle class="so" cx="519.3" cy="625.8" r="8"/><text x="491.2" y="651.5">Mg</text></g>
<g id="a-total-nitrogen" class="s"><circle class="so" cx="573.5" cy="624.7" r="8"/><text x="520" y="609">total nitrogen</text></g>
<g id="a-P2O5" class="s"><circle class="so" cx="542" cy="663.8" r="8"/><text x="531.6" y="687.8">P<tspan class="sub" dy="4">2</tspan><tspan dy="-4">O</tspan><tspan class="sub" dy="4">5</tspan></text></g>
</g>

<g id="panelB">
<g id="b-fine-silt" class="s"><circle class="so" cx="1077" cy="95.9" r="8"/><text x="1005.4" y="96.6">fine silt</text></g>
<g id="b-organic-carbon" class="s"><circle class="so" cx="1149.6" cy="91.1" r="8"/><text x="1092" y="78.1">organic carbon</text></g>
<g id="b-clay" class="s"><circle class="so" cx="1213" cy="106.2" r="8"/><text x="1221.7" y="95.9">clay</text></g>
<g id="b-coarse-silt" class="s"><circle class="so" cx="1089.7" cy="136.3" r="8"/><text x="1030.5" y="161">coarse silt</text></g>
<g id="b-organic-matter" class="s"><circle class="so" cx="1148.2" cy="130.8" r="8"/><text x="1164.1" y="131.5">organic matter</text></g>
<g id="b-CEC" class="s"><circle class="so" cx="1203" cy="155.5" r="8"/><text x="1183.4" y="181.5">CEC</text></g>
<g id="b-pH" class="s"><circle class="so" cx="1017" cy="186.3" r="8"/><text x="982" y="183">pH</text></g>
<g id="b-Mg" class="s"><circle class="so" cx="1297.6" cy="67.8" r="8"/><text x="1257.8" y="66.4">Mg</text></g>
<g id="b-total-nitrogen" class="s"><circle class="so" cx="1348.6" cy="72.6" r="8"/><text x="1316" y="61.6">total nitrogen</text></g>
<g id="b-P2O5" class="s"><circle class="so" cx="1328" cy="119.2" r="8"/><text x="1301.1" y="141.1">P<tspan class="sub" dy="4">2</tspan><tspan dy="-4">O</tspan><tspan class="sub" dy="4">5</tspan></text></g>
<g id="b-fine-sand" class="s"><circle class="so" cx="1442" cy="152" r="8"/><text x="1410" y="138">fine sand</text></g>
<g id="b-slope" class="s"><circle class="so" cx="1527" cy="291" r="8"/><text x="1502" y="276">slope</text></g>
<g id="b-16"><circle class="fl" cx="1328" cy="246" r="8"/><text x="1300" y="239">16</text></g>
<g id="b-23"><circle class="fl" cx="1387" cy="237" r="8"/><text x="1370" y="223">23</text></g>
<g id="b-2"><circle class="pa" cx="1455" cy="234" r="8"/><text x="1436" y="224">2</text></g>
<g id="b-31"><circle class="d3" cx="930.6" cy="213.3" r="8"/><text x="913.8" y="199.2">31</text></g>
<g id="b-40"><circle class="d4" cx="903.4" cy="233.2" r="8"/><text x="870.8" y="226.7">40</text></g>
<g id="b-42"><circle class="d4" cx="963.6" cy="239.6" r="8"/><text x="971.5" y="238.3">42</text></g>
<g id="b-35"><circle class="d4" cx="889.7" cy="264.4" r="8"/><text x="862" y="262.2">35</text></g>
<g id="b-36"><circle class="d4" cx="935.5" cy="277.2" r="8"/><text x="916.6" y="266.6">36</text></g>
<g id="b-38"><circle class="d4" cx="967.3" cy="281.8" r="8"/><text x="979.9" y="279">38</text></g>
<g id="b-21"><circle class="d2" cx="934.2" cy="316.6" r="8"/><text x="943.8" y="313.9">21</text></g>
<g id="b-39"><circle class="d4" cx="887.2" cy="329.5" r="8"/><text x="859.9" y="322.7">39</text></g>
<g id="b-33"><circle class="d3" cx="978.9" cy="341.8" r="8"/><text x="981" y="330">33</text></g>
<g id="b-29"><circle class="d3" cx="1055.5" cy="357" r="8"/><text x="1060.1" y="344.7">29</text></g>
<g id="b-37"><circle class="d4" cx="950.6" cy="372.6" r="8"/><text x="925.8" y="364.4">37</text></g>
<g id="b-17"><circle class="d2" cx="918" cy="393.7" r="8"/><text x="892.9" y="390">17</text></g>
<g id="b-41"><circle class="d4" cx="1007.2" cy="404.7" r="8"/><text x="999.9" y="391.9">41</text></g>
<g id="b-18"><circle class="d2" cx="947.4" cy="427.7" r="8"/><text x="950.6" y="413.9">18</text></g>
<g id="b-32"><circle class="d3" cx="897" cy="480" r="8"/><text x="867" y="475">32</text></g>
<g id="b-14"><circle class="d2" cx="864" cy="566" r="8"/><text x="834" y="563">14</text></g>
<g id="b-13"><circle class="d2" cx="905" cy="577" r="8"/><text x="909" y="560">13</text></g>
<g id="b-30"><circle class="d3" cx="867" cy="623" r="8"/><text x="842" y="644">30</text></g>
<g id="b-Y"><circle class="co" cx="914" cy="637" r="8"/><text x="926" y="633">Y</text></g>
<g id="b-1"><circle class="pa" cx="1157.9" cy="464" r="8"/><text x="1162.9" y="452.1">1</text></g>
<g id="b-28"><circle class="d2" cx="1112.6" cy="532.7" r="8"/><text x="1080.3" y="542.7">28</text></g>
<g id="b-8"><circle class="d1" cx="1304.3" cy="534.7" r="8"/><text x="1313.9" y="550.7">8</text></g>
<g id="b-7"><circle class="fl" cx="1153" cy="558" r="8"/><text x="1161.6" y="544.3">7</text></g>
<g id="b-26"><circle class="fl" cx="1186" cy="585.5" r="8"/><text x="1191.5" y="574.6">26</text></g>
<g id="b-5"><circle class="fl" cx="1121.2" cy="605" r="8"/><text x="1098.3" y="614">5</text></g>
<g id="b-24"><circle class="fl" cx="1153.9" cy="606.4" r="8"/><text x="1145.6" y="595.5">24</text></g>
<g id="b-27"><circle class="fl" cx="1210.7" cy="609.4" r="8"/><text x="1220.3" y="605.4">27</text></g>
<g id="b-34"><circle class="fl" cx="1135.3" cy="632" r="8"/><text x="1104.3" y="649.3">34</text></g>
<g id="b-25"><circle class="fl" cx="1217.2" cy="633.3" r="8"/><text x="1225.2" y="646.3">25</text></g>
<g id="b-6"><circle class="fl" cx="1178" cy="654" r="8"/><text x="1180.5" y="674.6">6</text></g>
<g id="b-X"><circle class="co" cx="1309" cy="666.2" r="8"/><text x="1295" y="653.3">X</text></g>
<g id="b-10"><circle class="fl" cx="1145" cy="671.2" r="8"/><text x="1118.8" y="690.1">10</text></g>
<g id="b-9"><circle class="fl" cx="1246.5" cy="696" r="8"/><text x="1248.4" y="682.5">9</text></g>
<g id="b-15"><circle class="d2" cx="1407" cy="405" r="8"/><text x="1381" y="397">15</text></g>
<g id="b-4"><circle class="d1" cx="1448" cy="408" r="8"/><text x="1456" y="400">4</text></g>
<g id="b-11"><circle class="d2" cx="1378" cy="443" r="8"/><text x="1349" y="440">11</text></g>
<g id="b-22"><circle class="d2" cx="1428" cy="436" r="8"/><text x="1397" y="438">22</text></g>
<g id="b-19"><circle class="d2" cx="1472" cy="441" r="8"/><text x="1472" y="429">19</text></g>
<g id="b-20"><circle class="d2" cx="1391" cy="469" r="8"/><text x="1357" y="491">20</text></g>
<g id="b-12"><circle class="d2" cx="1450" cy="472" r="8"/><text x="1460" y="485">12</text></g>
<g id="b-3"><circle class="d1" cx="1414" cy="489" r="8"/><text x="1414" y="512">3</text></g>
<g id="b-coarse-sand" class="s"><circle class="so" cx="1409" cy="642" r="8"/><text x="1361" y="632">coarse sand</text></g>
<g id="b-curvature" class="s"><circle class="so" cx="1374" cy="712" r="8"/><text x="1340" y="702">curvature</text></g>
<g id="b-elevation" class="s"><circle class="so" cx="1316" cy="732" r="8"/><text x="1273" y="756">elevation</text></g>
</g>

<g id="panelC">
<g id="c-CEC" class="s"><circle class="so" cx="370" cy="836.4" r="8"/><text x="331" y="826.7">CEC</text></g>
<g id="c-clay" class="s"><circle class="so" cx="333" cy="867.6" r="8"/><text x="293.6" y="860">clay</text></g>
<g id="c-organic-carbon" class="s"><circle class="so" cx="419" cy="871.5" r="8"/><text x="386.4" y="859.4">organic carbon</text></g>
<g id="c-organic-matter" class="s"><circle class="so" cx="389.3" cy="903.7" r="8"/><text x="312.3" y="925">organic matter</text></g>
<g id="c-fine-silt" class="s"><circle class="so" cx="469" cy="908.5" r="8"/><text x="454.5" y="932.4">fine silt</text></g>
<g id="c-coarse-silt" class="s"><circle class="so" cx="437" cy="945.4" r="8"/><text x="388.2" y="968.2">coarse silt</text></g>
<g id="c-pH" class="s"><circle class="so" cx="497.5" cy="973.7" r="8"/><text x="489.7" y="995.8">pH</text></g>
<g id="c-4"><circle class="d1" cx="578.5" cy="888.8" r="8"/><text x="553.7" y="879.4">4</text></g>
<g id="c-Y"><circle class="co" cx="649.2" cy="953.8" r="8"/><text x="651.8" y="941.2">Y</text></g>
<g id="c-total-nitrogen" class="s"><circle class="so" cx="617.4" cy="1041.4" r="8"/><text x="561.2" y="1028">total nitrogen</text></g>
<g id="c-P2O5" class="s"><circle class="so" cx="564" cy="1059" r="8"/><text x="529" y="1085">P<tspan class="sub" dy="4">2</tspan><tspan dy="-4">O</tspan><tspan class="sub" dy="4">5</tspan></text></g>
<g id="c-Mg" class="s"><circle class="so" cx="604" cy="1094" r="8"/><text x="600" y="1118">Mg</text></g>
<g id="c-fine-sand" class="s"><circle class="so" cx="717" cy="1059" r="8"/><text x="688" y="1047">fine sand</text></g>
<g id="c-slope" class="s"><circle class="so" cx="687" cy="1164" r="8"/><text x="662" y="1148">slope</text></g>
<g id="c-3"><circle class="d1" cx="740" cy="1180" r="8"/><text x="745" y="1166">3</text></g>
<g id="c-coarse-sand" class="s"><circle class="so" cx="621" cy="1265" r="8"/><text x="575" y="1250">coarse sand</text></g>
<g id="c-1"><circle class="pa" cx="717" cy="1328" r="8"/><text x="717" y="1315">1</text></g>
<g id="c-7"><circle class="fl" cx="675" cy="1403" r="8"/><text x="668" y="1385">7</text></g>
<g id="c-30"><circle class="d3" cx="192" cy="900" r="8"/><text x="164" y="889">30</text></g>
<g id="c-13"><circle class="d2" cx="160" cy="986" r="8"/><text x="130" y="981">13</text></g>
<g id="c-41"><circle class="d4" cx="370" cy="1114" r="8"/><text x="366" y="1096">41</text></g>
<g id="c-20"><circle class="d2" cx="72.2" cy="1052.3" r="8"/><text x="43.2" y="1045.5">20</text></g>
<g id="c-37"><circle class="d4" cx="175.1" cy="1073.8" r="8"/><text x="168.2" y="1058.8">37</text></g>
<g id="c-39"><circle class="d4" cx="234.2" cy="1066.6" r="8"/><text x="223.9" y="1047.7">39</text></g>
<g id="c-18"><circle class="d2" cx="280" cy="1061" r="8"/><text x="279.2" y="1045.5">18</text></g>
<g id="c-22"><circle class="d2" cx="99.2" cy="1090.5" r="8"/><text x="97.4" y="1075.3">22</text></g>
<g id="c-11"><circle class="d2" cx="72" cy="1118" r="8"/><text x="44.5" y="1113.3">11</text></g>
<g id="c-19"><circle class="d2" cx="148.3" cy="1116.6" r="8"/><text x="158.3" y="1108.9">19</text></g>
<g id="c-12"><circle class="d2" cx="93" cy="1143.2" r="8"/><text x="99.2" y="1130.3">12</text></g>
<g id="c-14"><circle class="d2" cx="132.7" cy="1145" r="8"/><text x="146.4" y="1148.7">14</text></g>
<g id="c-17"><circle class="d2" cx="269.2" cy="1143.2" r="8"/><text x="271.6" y="1164.6">17</text></g>
<g id="c-29"><circle class="d3" cx="76" cy="1181.2" r="8"/><text x="48.3" y="1172">29</text></g>
<g id="c-33"><circle class="d3" cx="122.8" cy="1183" r="8"/><text x="134.2" y="1178">33</text></g>
<g id="c-32"><circle class="d3" cx="95.5" cy="1208.3" r="8"/><text x="66.2" y="1224.8">32</text></g>
<g id="c-15"><circle class="d2" cx="148.5" cy="1258" r="8"/><text x="154.4" y="1245.8">15</text></g>
<g id="c-curvature" class="s"><circle class="so" cx="533.2" cy="1238.5" r="8"/><text x="484.4" y="1218.7">curvature</text></g>
<g id="c-elevation" class="s"><circle class="so" cx="497" cy="1299.3" r="8"/><text x="436.6" y="1284.6">elevation</text></g>
<g id="c-X"><circle class="co" cx="542.6" cy="1334.1" r="8"/><text x="548.9" y="1319.4">X</text></g>
<g id="c-21"><circle class="d2" cx="206.6" cy="1306.8" r="8"/><text x="209.1" y="1289.4">21</text></g>
<g id="c-28"><circle class="d2" cx="297.9" cy="1306.2" r="8"/><text x="295.7" y="1294.2">28</text></g>
<g id="c-8"><circle class="d1" cx="295.7" cy="1350.6" r="8"/><text x="306.7" y="1342.9">8</text></g>
<g id="c-31"><circle class="d3" cx="143.7" cy="1371.8" r="8"/><text x="113.8" y="1365.5">31</text></g>
<g id="c-36"><circle class="d4" cx="178.6" cy="1385.9" r="8"/><text x="176.1" y="1370.1">36</text></g>
<g id="c-38"><circle class="d4" cx="215.4" cy="1399.5" r="8"/><text x="219.5" y="1384.4">38</text></g>
<g id="c-5"><circle class="fl" cx="381.5" cy="1396.4" r="8"/><text x="386.3" y="1380.2">5</text></g>
<g id="c-42"><circle class="d4" cx="162" cy="1420.1" r="8"/><text x="129.6" y="1413.1">42</text></g>
<g id="c-10"><circle class="fl" cx="469.6" cy="1418.4" r="8"/><text x="461.8" y="1403.7">10</text></g>
<g id="c-25"><circle class="fl" cx="526" cy="1414.2" r="8"/><text x="518.4" y="1401.6">25</text></g>
<g id="c-9"><circle class="fl" cx="575.6" cy="1411.7" r="8"/><text x="575.6" y="1397.4">9</text></g>
<g id="c-27"><circle class="fl" cx="530" cy="1441.4" r="8"/><text x="541" y="1444.6">27</text></g>
<g id="c-2"><circle class="pa" cx="380.6" cy="1446.1" r="8"/><text x="388.5" y="1435.6">2</text></g>
<g id="c-40"><circle class="d4" cx="202.9" cy="1450.2" r="8"/><text x="208.2" y="1441.9">40</text></g>
<g id="c-35"><circle class="d4" cx="157.2" cy="1456.5" r="8"/><text x="127.4" y="1453">35</text></g>
<g id="c-24"><circle class="fl" cx="470.9" cy="1465.5" r="8"/><text x="434.7" y="1464.1">24</text></g>
<g id="c-6"><circle class="fl" cx="580.4" cy="1474" r="8"/><text x="593" y="1476">6</text></g>
<g id="c-34"><circle class="fl" cx="529.1" cy="1477.1" r="8"/><text x="531" y="1495.5">34</text></g>
<g id="c-23"><circle class="fl" cx="232.1" cy="1478.1" r="8"/><text x="242.8" y="1470.4">23</text></g>
<g id="c-16"><circle class="fl" cx="321.8" cy="1481.7" r="8"/><text x="325.6" y="1468.3">16</text></g>
<g id="c-26"><circle class="fl" cx="505.8" cy="1504.4" r="8"/><text x="504" y="1528">26</text></g>
</g>

<g id="panelD">
<g id="d-cluster-3"><ellipse cx="919.6" cy="1031.9" rx="72.7" ry="39.3" fill="none" stroke="#a8eef8" stroke-width="1.8"/><text class="cl" x="827.8" y="984.3" textLength="95" lengthAdjust="spacingAndGlyphs">cluster 3</text></g>
<g id="d-cluster-4"><ellipse cx="1128.9" cy="1118" rx="35" ry="101" transform="rotate(9 1128.9 1118)" fill="none" stroke="#50bfe0" stroke-width="1.6"/><text class="cl" x="1029.9" y="1018.3" textLength="96" lengthAdjust="spacingAndGlyphs">cluster 4</text></g>
<g id="d-cluster-2"><ellipse cx="937.6" cy="1233.3" rx="130" ry="55" transform="rotate(-40 937.6 1233.3)" fill="none" stroke="#0a7ef8" stroke-width="1.8"/><text class="cl" x="827.8" y="1163" textLength="95" lengthAdjust="spacingAndGlyphs">cluster 2</text></g>
<g id="d-cluster-1"><ellipse cx="1159.9" cy="1420.5" rx="200" ry="72" transform="rotate(14 1159.9 1420.5)" fill="none" stroke="#ff9a00" stroke-width="1.8"/><text class="cl" x="1021.3" y="1325.6" textLength="96" lengthAdjust="spacingAndGlyphs">cluster 1</text></g>
<g id="d-37"><circle class="d4" cx="1081" cy="839" r="8"/><text x="1047" y="845">37</text></g>
<g id="d-15"><circle class="d2" cx="1166" cy="835" r="8"/><text x="1134" y="853">15</text></g>
<g id="d-19"><circle class="d2" cx="1242" cy="851" r="8"/><text x="1216" y="872">19</text></g>
<g id="d-3"><circle class="d1" cx="1323" cy="869" r="8"/><text x="1331" y="879">3</text></g>
<g id="d-23"><circle class="fl" cx="983" cy="898" r="8"/><text x="981" y="883">23</text></g>
<g id="d-16"><circle class="fl" cx="944" cy="921" r="8"/><text x="911" y="926">16</text></g>
<g id="d-33"><circle class="d3" cx="1072" cy="915" r="8"/><text x="1039" y="919">33</text></g>
<g id="d-Y"><circle class="co" cx="1173" cy="918" r="8"/><text x="1156" y="946">Y</text></g>
<g id="d-7"><circle class="fl" cx="1398" cy="918" r="8"/><text x="1376" y="911">7</text></g>
<g id="d-29"><circle class="d3" cx="1069.6" cy="961" r="8"/><text x="1037" y="967">29</text></g>
<g id="d-fine-sand" class="s"><circle class="so" cx="1286" cy="936" r="8"/><text x="1244" y="962">fine sand</text></g>
<g id="d-2"><circle class="pa" cx="1222" cy="990" r="8"/><text x="1204" y="1013">2</text></g>
<g id="d-slope" class="s"><circle class="so" cx="1367" cy="984" r="8"/><text x="1338" y="1007">slope</text></g>
<g id="d-28"><circle class="d2" cx="1459" cy="998" r="8"/><text x="1465" y="1016">28</text></g>
<g id="d-1"><circle class="pa" cx="1302" cy="1041" r="8"/><text x="1311" y="1028">1</text></g>
<g id="d-41"><circle class="d4" cx="1405" cy="1061" r="8"/><text x="1405" y="1051">41</text></g>
<g id="d-39"><circle class="d4" cx="1493" cy="1082" r="8"/><text x="1500" y="1076">39</text></g>
<g id="d-4"><circle class="d1" cx="1412" cy="1138" r="8"/><text x="1416" y="1127">4</text></g>
<g id="d-coarse-sand" class="s"><circle class="so" cx="1498" cy="1164" r="8"/><text x="1457" y="1152">coarse sand</text></g>
<g id="d-total-nitrogen" class="s"><circle class="so" cx="1247" cy="1147" r="8"/><text x="1168" y="1134">total nitrogen</text></g>
<g id="d-Mg" class="s"><circle class="so" cx="1293" cy="1151" r="8"/><text x="1296" y="1141">Mg</text></g>
<g id="d-P2O5" class="s"><circle class="so" cx="1262" cy="1193" r="8"/><text x="1270" y="1212">P<tspan class="sub" dy="4">2</tspan><tspan dy="-4">O</tspan><tspan class="sub" dy="4">5</tspan></text></g>
<g id="d-8"><circle class="d1" cx="1503.5" cy="1245.6" r="8"/><text x="1516" y="1237">8</text></g>
<g id="d-11"><circle class="d2" cx="921.5" cy="1013.3" r="8"/><text x="931.6" y="1001.2">11</text></g>
<g id="d-22"><circle class="d2" cx="972.2" cy="1029.1" r="8"/><text x="983.7" y="1037.2">22</text></g>
<g id="d-20"><circle class="d2" cx="877.6" cy="1043" r="8"/><text x="848.1" y="1052.3">20</text></g>
<g id="d-12"><circle class="d2" cx="927" cy="1056" r="8"/><text x="915" y="1083.2">12</text></g>
<g id="d-32"><circle class="d3" cx="1135.3" cy="1037.2" r="8"/><text x="1143.4" y="1027.9">32</text></g>
<g id="d-14"><circle class="d2" cx="1124.5" cy="1087.5" r="8"/><text x="1134.6" y="1086.3">14</text></g>
<g id="d-13"><circle class="d2" cx="1123.8" cy="1146" r="8"/><text x="1129.1" y="1135.8">13</text></g>
<g id="d-30"><circle class="d3" cx="1125.4" cy="1200.8" r="8"/><text x="1130.7" y="1188.2">30</text></g>
<g id="d-17"><circle class="d2" cx="961.6" cy="1161.3" r="8"/><text x="969.2" y="1181.9">17</text></g>
<g id="d-18"><circle class="d2" cx="1013.7" cy="1154.7" r="8"/><text x="1017" y="1178.1">18</text></g>
<g id="d-21"><circle class="d2" cx="912.2" cy="1199.5" r="8"/><text x="927.2" y="1199.5">21</text></g>
<g id="d-38"><circle class="d4" cx="868.4" cy="1247.3" r="8"/><text x="861.5" y="1236">38</text></g>
<g id="d-36"><circle class="d4" cx="895.8" cy="1248.6" r="8"/><text x="885.5" y="1236">36</text></g>
<g id="d-42"><circle class="d4" cx="920.8" cy="1261.2" r="8"/><text x="921.9" y="1251.9">42</text></g>
<g id="d-40"><circle class="d4" cx="861.5" cy="1284.6" r="8"/><text x="845.3" y="1271.3">40</text></g>
<g id="d-35"><circle class="d4" cx="884.5" cy="1307" r="8"/><text x="877.6" y="1294.7">35</text></g>
<g id="d-31"><circle class="d3" cx="914.5" cy="1298.4" r="8"/><text x="927" y="1293.9">31</text></g>
<g id="d-CEC" class="s"><circle class="so" cx="1353.2" cy="1266.7" r="8"/><text x="1321.2" y="1256">CEC</text></g>
<g id="d-clay" class="s"><circle class="so" cx="1396" cy="1253.8" r="8"/><text x="1389.1" y="1239.6">clay</text></g>
<g id="d-organic-carbon" class="s"><circle class="so" cx="1402.7" cy="1302" r="8"/><text x="1348.7" y="1289">organic carbon</text></g>
<g id="d-organic-matter" class="s"><circle class="so" cx="1370.2" cy="1312.2" r="8"/><text x="1298.5" y="1332.7">organic matter</text></g>
<g id="d-fine-silt" class="s"><circle class="so" cx="1422.3" cy="1344" r="8"/><text x="1434.4" y="1338">fine silt</text></g>
<g id="d-coarse-silt" class="s"><circle class="so" cx="1382" cy="1364.3" r="8"/><text x="1347.6" y="1384.9">coarse silt</text></g>
<g id="d-pH" class="s"><circle class="so" cx="1377" cy="1422.3" r="8"/><text x="1377.8" y="1441.6">pH</text></g>
<g id="d-9"><circle class="fl" cx="1161" cy="1355.7" r="8"/><text x="1169.4" y="1373.5">9</text></g>
<g id="d-10"><circle class="fl" cx="1081.8" cy="1390" r="8"/><text x="1051.5" y="1395">10</text></g>
<g id="d-27"><circle class="fl" cx="1126" cy="1402" r="8"/><text x="1112" y="1387.9">27</text></g>
<g id="d-5"><circle class="fl" cx="991" cy="1423.6" r="8"/><text x="983.6" y="1412.2">5</text></g>
<g id="d-24"><circle class="fl" cx="1061.7" cy="1428.3" r="8"/><text x="1035.3" y="1442.9">24</text></g>
<g id="d-34"><circle class="fl" cx="1097.6" cy="1428" r="8"/><text x="1089.3" y="1417.5">34</text></g>
<g id="d-25"><circle class="fl" cx="1138.4" cy="1424.4" r="8"/><text x="1145.9" y="1410.7">25</text></g>
<g id="d-X"><circle class="co" cx="1199.6" cy="1421.4" r="8"/><text x="1200.3" y="1406.4">X</text></g>
<g id="d-elevation" class="s"><circle class="so" cx="1258" cy="1443" r="8"/><text x="1235.4" y="1429.4">elevation</text></g>
<g id="d-26"><circle class="fl" cx="1086.3" cy="1456.7" r="8"/><text x="1055.3" y="1468">26</text></g>
<g id="d-6"><circle class="fl" cx="1119.5" cy="1468" r="8"/><text x="1128.6" y="1482.4">6</text></g>
<g id="d-curvature" class="s"><circle class="so" cx="1294.7" cy="1478.8" r="8"/><text x="1260" y="1467.4">curvature</text></g>
</g>
</g>
</svg>
